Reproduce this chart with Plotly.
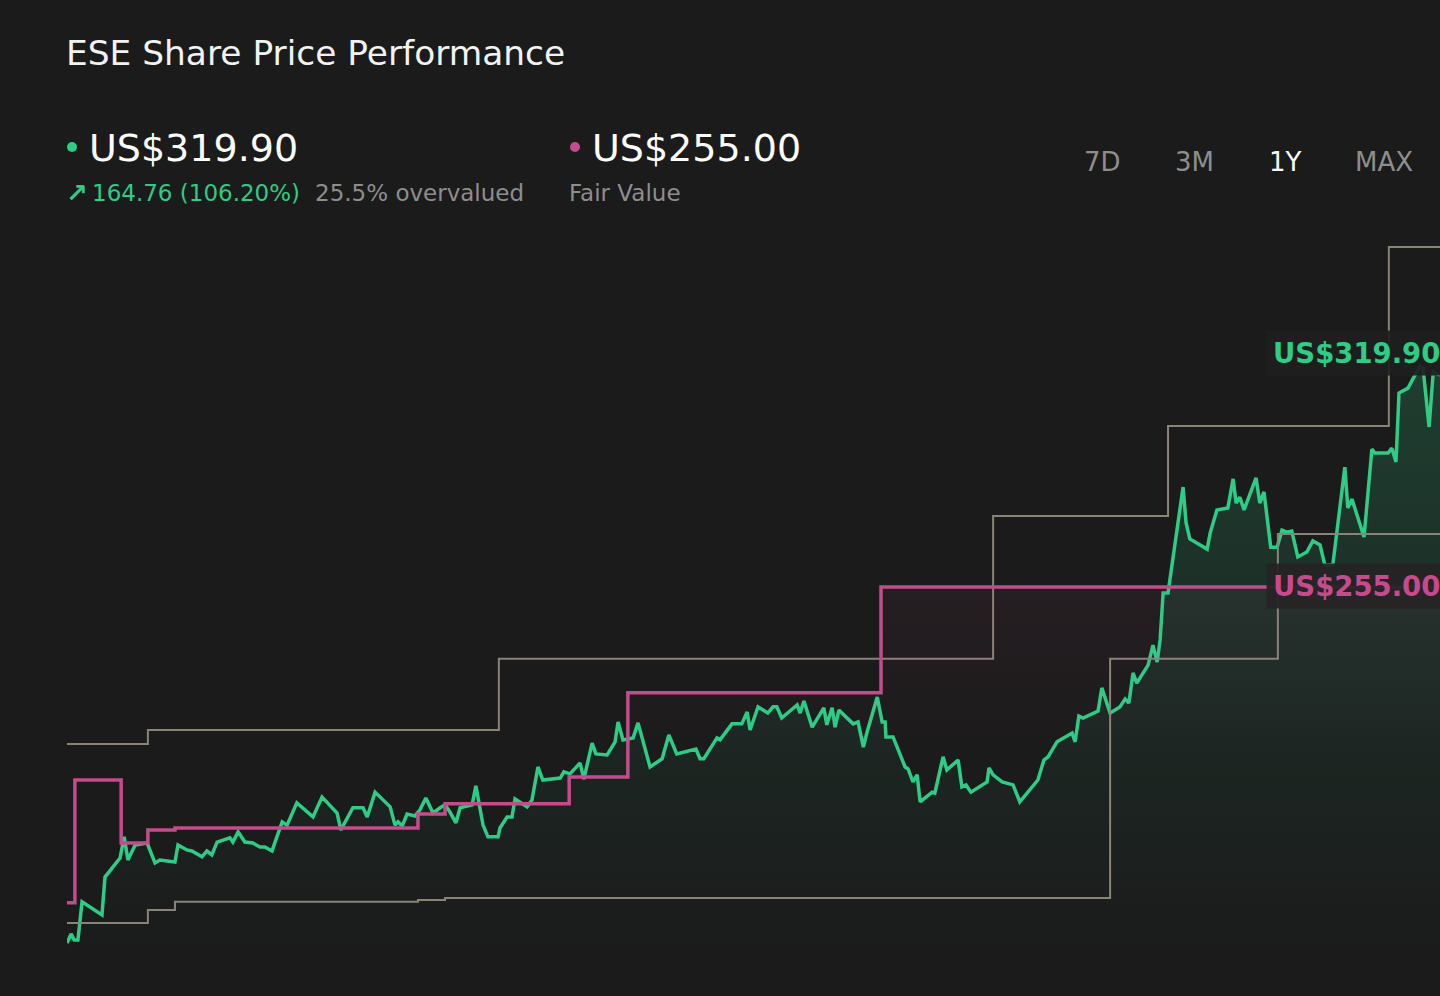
import plotly.graph_objects as go

# ESE closing price over the last year (day 0 = one year ago)
price_day = [0.0, 1.1, 1.9, 2.9, 4.0, 9.3, 10.1, 12.0, 14.1, 15.2, 16.2, 18.1, 21.3, 23.4, 24.7,
             28.7, 29.5, 31.9, 33.2, 35.9, 37.2, 38.5, 39.9, 43.3, 44.1, 45.5, 47.3, 49.4, 51.3,
             52.6, 54.5, 57.2, 58.5, 61.1, 65.4, 67.8, 71.8, 72.8, 76.0, 78.7, 79.8, 81.9, 85.9,
             87.2, 88.0, 89.1, 90.4, 92.5, 93.8, 95.4, 97.3, 99.2, 100.5, 101.8, 103.4, 104.5,
             107.7, 108.7, 110.6, 111.9, 114.6, 115.1, 117.0, 118.3, 119.1, 122.3, 123.6, 125.2,
             126.5, 131.1, 132.1, 133.7, 136.4, 137.4, 139.6, 140.6, 143.6, 145.7, 146.5, 147.8,
             150.5, 151.8, 155.0, 158.2, 160.0, 162.1, 165.6, 167.2, 168.3, 169.3, 172.8, 173.6,
             176.8, 179.4, 180.8, 181.6, 183.7, 186.3, 187.7, 188.7, 190.0, 194.1, 194.9, 195.9,
             198.1, 201.2, 202.0, 203.4, 204.2, 205.2, 209.0, 210.3, 211.7, 212.7, 215.4, 216.7,
             217.5, 217.7, 219.6, 222.8, 223.6, 224.9, 226.0, 226.8, 230.0, 230.7, 232.9, 233.9,
             236.9, 237.9, 239.0, 240.3, 244.6, 245.1, 246.2, 248.6, 251.5, 253.3, 258.1, 259.7,
             260.8, 263.2, 267.2, 268.0, 269.0, 270.1, 274.1, 275.1, 277.3, 279.9, 281.3, 282.3,
             283.4, 284.4, 287.4, 288.7, 289.8, 290.6, 291.4, 292.7, 296.7, 297.5, 298.5, 303.1,
             303.9, 305.7, 308.6, 310.0, 310.8, 311.8, 312.9, 316.1, 317.1, 318.2, 320.0, 321.7,
             323.0, 324.3, 325.6, 327.2, 329.6, 331.2, 333.1, 334.4, 336.5, 339.7, 340.5, 341.6,
             344.8, 346.9, 347.7, 351.2, 352.2, 353.3, 354.1, 355.7, 356.5, 357.8, 359.7, 360.5,
             362.1, 363.2, 365.0]
price = [146.0, 148.8, 146.9, 146.9, 158.6, 154.6, 166.2, 169.0, 172.0, 178.5, 171.4, 176.0, 176.6,
         170.5, 171.4, 170.8, 176.0, 174.5, 174.2, 172.4, 174.2, 173.0, 176.9, 178.2, 176.9, 180.0,
         176.9, 176.6, 175.4, 175.4, 174.2, 183.1, 182.1, 188.9, 184.6, 190.7, 185.8, 180.6, 187.4,
         187.4, 184.6, 192.2, 187.7, 182.1, 183.1, 181.8, 185.5, 184.9, 186.7, 190.4, 185.8, 187.4,
         188.3, 186.1, 182.8, 187.4, 188.3, 194.1, 182.1, 178.5, 178.5, 181.2, 184.6, 184.6, 190.1,
         187.7, 189.8, 199.9, 195.9, 196.5, 198.4, 197.8, 201.1, 196.2, 207.2, 203.9, 203.6, 207.6,
         213.7, 208.2, 208.8, 213.4, 199.9, 202.4, 209.7, 203.9, 204.8, 205.4, 202.4, 202.4, 208.8,
         208.2, 213.1, 213.1, 216.7, 211.2, 218.3, 216.4, 218.3, 218.3, 214.9, 218.9, 216.4, 220.1,
         212.1, 218.0, 212.8, 218.0, 212.1, 217.3, 213.1, 213.7, 206.0, 210.6, 221.3, 213.7, 213.7,
         209.1, 209.1, 199.9, 199.3, 195.3, 197.5, 189.2, 192.2, 191.9, 203.0, 199.0, 202.0, 193.8,
         194.4, 192.2, 195.3, 199.6, 197.5, 195.3, 194.4, 189.2, 195.9, 202.0, 203.0, 207.6, 210.3,
         207.6, 215.5, 214.9, 217.0, 224.1, 216.4, 218.3, 220.7, 219.5, 228.7, 225.6, 231.1, 237.2,
         232.0, 238.8, 253.2, 253.2, 285.6, 274.6, 269.7, 266.6, 271.5, 278.6, 279.2, 288.1, 280.7,
         282.5, 278.6, 288.4, 280.7, 284.1, 267.2, 267.2, 272.4, 271.8, 272.1, 264.2, 265.7, 269.1,
         267.9, 261.7, 261.7, 291.7, 279.2, 281.9, 270.3, 297.2, 296.0, 296.0, 297.5, 293.3, 314.4,
         315.3, 315.9, 318.7, 322.6, 322.0, 304.0, 320.8, 319.9]

# fair value estimate (stepped)
fair_day = [0, 2.1, 14.4, 21.5, 28.7, 93.3, 100.5, 133.5, 149.1, 216.4, 365]
fair_value = [158.3, 195.9, 176.6, 180.6, 181.2, 185.5, 188.6, 196.8, 222.6, 255.0, 255.0]

# analyst price target range (stepped)
high_day = [0, 21.5, 114.8, 246.2, 292.7, 351.4, 365]
target_high = [206.9, 211.2, 233.0, 276.7, 304.3, 359.1, 359.1]
low_day = [0, 21.5, 28.7, 93.3, 100.5, 277.3, 321.9, 365]
target_low = [152.1, 156.1, 158.6, 159.2, 159.8, 233.0, 271.2, 271.2]

ranges = ["7D", "3M", "1Y", "MAX"]

BG = "#1b1b1b"
GREEN = "#2ecc85"
PINK = "#c44b8c"
GREY = "#8a8478"
MUTED = "#8e8e8e"

W, H = 1440, 996
L, R, T, B = 67, 0, 230, 36


def px(x, y):
    # pixel position -> paper coords
    return (x - L) / (W - L - R), (H - B - y) / (H - T - B)


fig = go.Figure()

fig.add_trace(go.Scatter(
    x=price_day, y=price, mode="lines",
    line=dict(color=GREEN, width=3.5),
    fill="tozeroy",
    fillgradient=dict(type="vertical", start=140, stop=325,
                      colorscale=[[0, "rgba(46,204,133,0)"], [0.3, "rgba(46,204,133,0.05)"],
                                  [1, "rgba(46,204,133,0.20)"]]),
    hoverinfo="skip"))

for d, v in [(high_day, target_high), (low_day, target_low)]:
    fig.add_trace(go.Scatter(x=d, y=v, mode="lines", line=dict(color=GREY, width=2, shape="hv"),
                             hoverinfo="skip"))

fig.add_trace(go.Scatter(
    x=fair_day, y=fair_value, mode="lines",
    line=dict(color=PINK, width=3.5, shape="hv"),
    fill="tozeroy",
    fillgradient=dict(type="vertical", start=200, stop=255,
                      colorscale=[[0, "rgba(196,75,140,0)"], [1, "rgba(196,75,140,0.06)"]]),
    hoverinfo="skip"))

ann = []


def text(x, y, s, size, color, anchor="left", **kw):
    xx, yy = px(x, y)
    ann.append(dict(x=xx, y=yy, xref="paper", yref="paper", text=s, showarrow=False,
                    xanchor=anchor, yanchor="middle",
                    font=dict(size=size, color=color, family="DejaVu Sans"), **kw))


text(64, 53, "ESE Share Price Performance", 34.4, "#f2f2f2")
text(87, 148, f"US${price[-1]:.2f}", 38, "#ffffff")
text(64, 193, "<b>↗</b>", 26, GREEN)
text(90, 193, "164.76 (106.20%)", 23, GREEN)
text(313, 193, "25.5% overvalued", 23, MUTED)
text(590, 148, f"US${fair_value[-1]:.2f}", 38, "#ffffff")
text(567, 193, "Fair Value", 23, MUTED)

for lab, cx in zip(ranges, [1102, 1194, 1285, 1384]):
    text(cx, 162, lab, 26, "#ffffff" if lab == "1Y" else MUTED, anchor="center")

text(1266, 353, f"<b>US${price[-1]:.2f}</b>", 27.5, GREEN, bgcolor="rgba(30,30,30,0.92)", borderpad=6)
text(1266, 586, f"<b>US${fair_value[-1]:.2f}</b>", 27.5, PINK, bgcolor="rgba(38,36,37,0.95)", borderpad=6)

shapes = []
for cx, col in [(72, GREEN), (575, PINK)]:
    x0, y0 = px(cx - 5, 142)
    x1, y1 = px(cx + 5, 152)
    shapes.append(dict(type="circle", xref="paper", yref="paper", x0=x0, y0=y1, x1=x1, y1=y0,
                       fillcolor=col, line=dict(width=0)))

fig.update_layout(
    width=W, height=H,
    margin=dict(l=L, r=R, t=T, b=B),
    paper_bgcolor=BG, plot_bgcolor=BG,
    showlegend=False,
    annotations=ann, shapes=shapes,
    xaxis=dict(range=[0, 365], visible=False, fixedrange=True),
    yaxis=dict(range=[140.8, 364.3], visible=False, fixedrange=True),
)

fig.write_html("out.html", config={"displayModeBar": False},
               post_script="document.body.style.margin='0';document.body.style.background='#1b1b1b';")
